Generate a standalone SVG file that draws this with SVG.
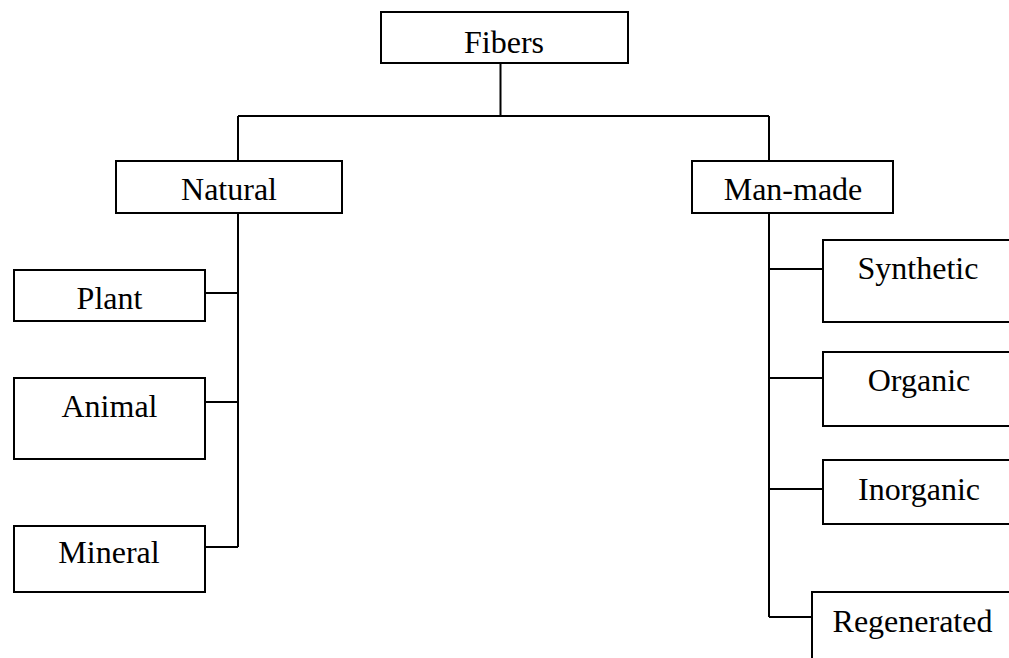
<svg xmlns="http://www.w3.org/2000/svg" width="1009" height="658" viewBox="0 0 1009 658">
<style>
rect{fill:#fff;stroke:#000;stroke-width:2}
text{font-family:"Liberation Serif","Times New Roman",serif;font-size:32px;fill:#000;text-anchor:middle}
#connectors path{fill:none;stroke:#000;stroke-width:2}
</style>
<rect x="0" y="0" width="1009" height="658" style="stroke:none"/>
<g id="connectors">
<path d="M500.5 63V116M238 116H769M238 116V161M769 116V161"/>
<path d="M238 213V547M205 293H238M205 402H238M205 547H238"/>
<path d="M769 213V617M769 269H823M769 378H823M769 489H823M769 617H812"/>
</g>
<g id="fibers"><rect x="381" y="12" width="247" height="51"/><text x="504" y="53">Fibers</text></g>
<g id="natural"><rect x="116" y="161" width="226" height="52"/><text x="229" y="200">Natural</text></g>
<g id="manmade"><rect x="692" y="161" width="201" height="52"/><text x="793" y="200">Man-made</text></g>
<g id="plant"><rect x="14" y="270" width="191" height="51"/><text x="109.5" y="309">Plant</text></g>
<g id="animal"><rect x="14" y="378" width="191" height="81"/><text x="109.5" y="417">Animal</text></g>
<g id="mineral"><rect x="14" y="526" width="191" height="66"/><text x="109" y="563">Mineral</text></g>
<g id="synthetic"><rect x="823" y="240" width="200" height="82"/><text x="918" y="279">Synthetic</text></g>
<g id="organic"><rect x="823" y="352" width="200" height="74"/><text x="919" y="391">Organic</text></g>
<g id="inorganic"><rect x="823" y="460" width="200" height="64"/><text x="919" y="500">Inorganic</text></g>
<g id="regenerated"><rect x="812" y="592" width="210" height="80"/><text x="912.5" y="632">Regenerated</text></g>
</svg>
